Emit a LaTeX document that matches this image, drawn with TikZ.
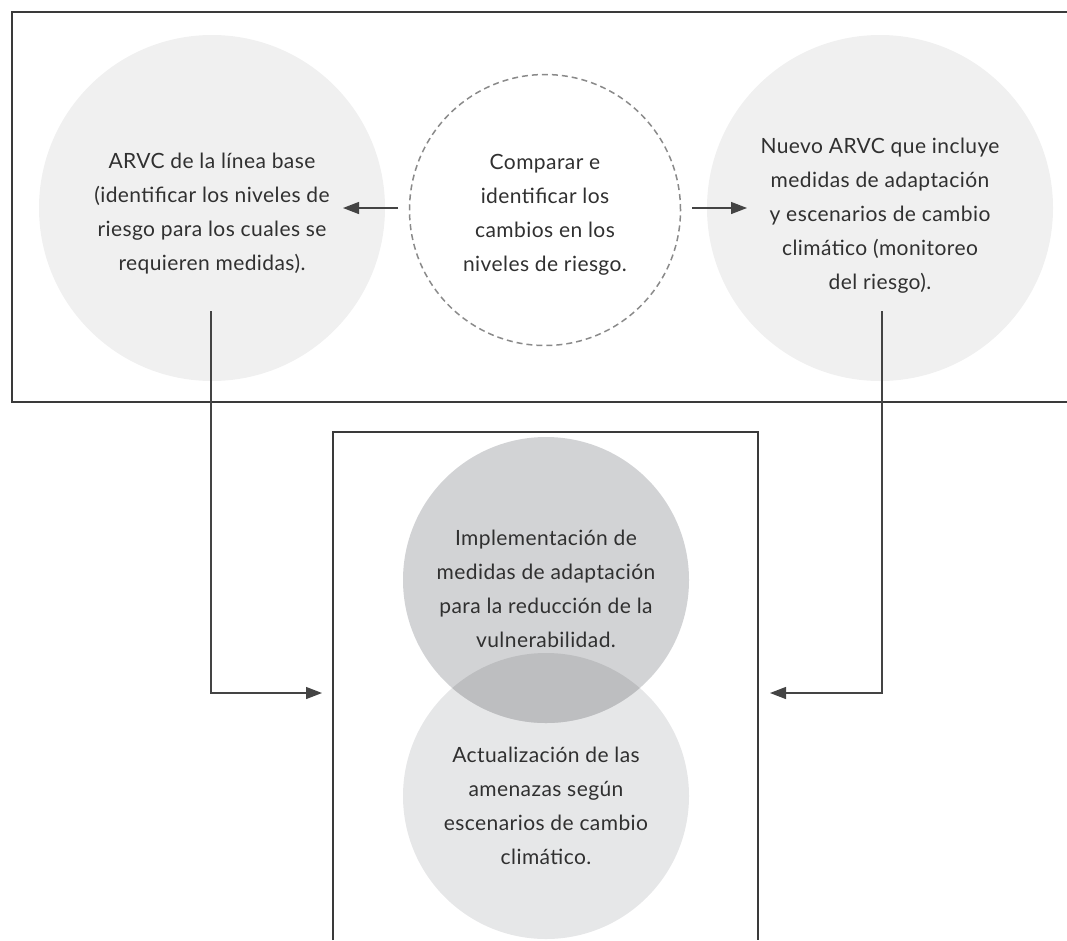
\documentclass[tikz,border=0pt]{standalone}
\usepackage{fontspec}
\setmainfont{Lato}[LetterSpace=2]
\usetikzlibrary{arrows.meta}
\definecolor{lightc}{HTML}{F0F0F0}
\definecolor{topc}{HTML}{D2D3D5}
\definecolor{botc}{HTML}{E6E7E8}
\definecolor{ovc}{HTML}{BDBEC0}
\definecolor{txt}{HTML}{303030}
\definecolor{framec}{HTML}{3A3A3A}
\definecolor{dashc}{HTML}{8A8A8A}
\definecolor{linec}{HTML}{444444}
\tikzset{
  bubble/.style={circle, inner sep=0pt},
  label text/.style={inner sep=0pt, align=center, text=txt,
    font=\fontsize{21}{34}\selectfont},
  framebox/.style={draw=framec, line width=1.4pt},
  conn/.style={draw=linec, line width=1.3pt, -{Triangle[length=16pt,width=12pt]}},
}
\begin{document}
\begin{tikzpicture}[x=1pt, y=-1pt]
\useasboundingbox (0,0) rectangle (1067,940);
% frames
\draw[framebox] (1067,12) -- (12,12) -- (12,402) -- (1067,402);
\draw[framebox] (333,940) -- (333,432) -- (758,432) -- (758,940);
% top row
\node[bubble, fill=lightc, minimum size=346pt] (base) at (212,208) {};
\node[label text] (baset) at ([yshift=-6pt]base.center)
  {ARVC de la línea base\\(identificar los niveles de\\riesgo para los cuales se\\requieren medidas).};
\node[bubble, draw=dashc, dash pattern=on 6pt off 4pt, line width=1.5pt, minimum size=271pt] (comp) at (545,210) {};
\node[label text] (compt) at ([yshift=-5pt]comp.center)
  {Comparar e\\identificar los\\cambios en los\\niveles de riesgo.};
\node[bubble, fill=lightc, minimum size=346pt] (nuevo) at (880,208) {};
\node[label text] (nuevot) at ([yshift=-8pt]nuevo.center)
  {Nuevo ARVC que incluye\\medidas de adaptación\\y escenarios de cambio\\climático (monitoreo\\del riesgo).};
% bottom pair
\node[bubble, fill=botc, minimum size=286pt] (actu) at (546,796) {};
\node[bubble, fill=topc, minimum size=286pt] (impl) at (546,580) {};
\begin{scope}
  \clip (546,580) circle[radius=143];
  \fill[ovc] (546,796) circle[radius=143];
\end{scope}
\node[label text] (implt) at ([yshift=-9pt]impl.center)
  {Implementación de\\medidas de adaptación\\para la reducción de la\\vulnerabilidad.};
\node[label text] (actut) at ([yshift=-10pt]actu.center)
  {Actualización de las\\amenazas según\\escenarios de cambio\\climático.};
% short arrows
\coordinate (la0) at (398,208);
\coordinate (la1) at (343,208);
\coordinate (ra0) at (692,208);
\coordinate (ra1) at (747,208);
\draw[conn] (la0) -- (la1);
\draw[conn] (ra0) -- (ra1);
% long connectors
\coordinate (l0) at (211,311);
\coordinate (l1) at (322,693);
\coordinate (r0) at (882,311);
\coordinate (r1) at (770,693);
\draw[conn] (l0) |- (l1);
\draw[conn] (r0) |- (r1);
\end{tikzpicture}
\end{document}
